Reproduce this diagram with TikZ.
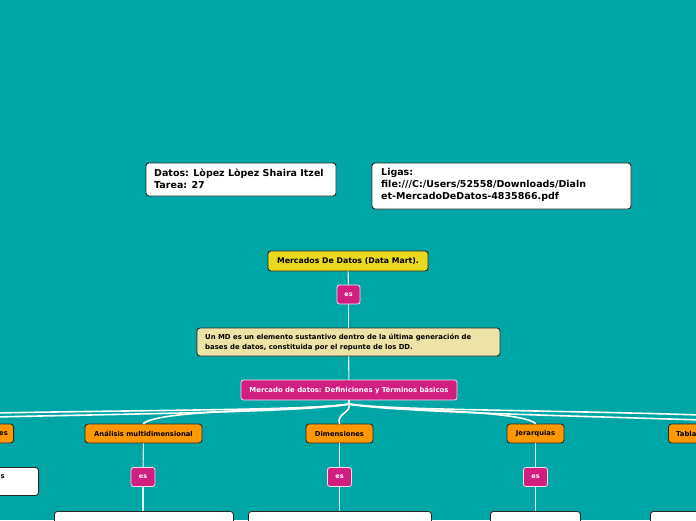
\documentclass[tikz,border=0pt]{standalone}
\usepackage{fontspec}
\setmainfont{DejaVu Sans}
\definecolor{bgteal}{RGB}{0,166,166}
\definecolor{mdyellow}{RGB}{232,216,30}
\definecolor{mdkhaki}{RGB}{236,228,166}
\definecolor{mdpink}{RGB}{210,30,128}
\definecolor{mdorange}{RGB}{255,152,0}
\definecolor{mdborder}{RGB}{40,40,40}
\definecolor{mdline}{RGB}{230,245,245}
\tikzset{
  box/.style={draw=mdborder, line width=0.9pt, rounded corners=3pt, inner sep=0pt, font=\bfseries},
  esbox/.style={draw=white!85!mdpink, line width=0.8pt, fill=mdpink, rounded corners=2.5pt, minimum width=24pt, minimum height=19pt, inner sep=0pt, text=white, font=\bfseries\fontsize{6.5}{7}\selectfont},
  orangebox/.style={box, fill=mdorange, minimum height=19pt, font=\bfseries\fontsize{6.8}{8}\selectfont},
  conn/.style={draw=mdline, line width=1.1pt},
  branch/.style={draw=white, line width=1.6pt, line cap=round},
}
\begin{document}
\begin{tikzpicture}[x=1pt,y=-1pt]
\useasboundingbox (0,0) rectangle (696,520);
\fill[bgteal] (0,0) rectangle (696,520);
\clip (0,0) rectangle (696,520);

% top info boxes
\node[box, fill=white, minimum width=190pt, minimum height=33pt] (datos) at (241,179.5) {};
\node[anchor=north west, align=left, font=\bfseries\fontsize{9.5}{12}\selectfont, inner sep=0pt] (datosT) at (154,168.5) {Datos: Lòpez Lòpez Shaira Itzel\\Tarea: 27};
\node[box, fill=white, minimum width=259pt, minimum height=46pt] (ligas) at (501.5,186) {};
\node[anchor=north west, align=left, font=\bfseries\fontsize{9.5}{12}\selectfont, inner sep=0pt] (ligasT) at (381,168.5) {Ligas:\\file:///C:/Users/52558/Downloads/Dialn\\et-MercadoDeDatos-4835866.pdf};

% main chain
\node[box, fill=mdyellow, minimum width=160pt, minimum height=20pt, font=\bfseries\fontsize{7.8}{9}\selectfont] (root) at (348,261) {Mercados De Datos (Data Mart).};
\node[esbox, minimum width=23pt] (es0) at (348.5,294.5) {es};
\node[box, fill=mdkhaki, minimum width=303pt, minimum height=28pt] (def) at (348.5,342) {};
\node[anchor=west, align=left, font=\bfseries\fontsize{6.9}{10}\selectfont, inner sep=0pt] (defT) at (205,342) {Un MD es un elemento sustantivo dentro de la última generación de\\bases de datos, constituida por el repunte de los DD.};
\node[esbox, minimum width=216pt, minimum height=20pt, font=\bfseries\fontsize{6.9}{8}\selectfont] (mdd) at (349,390) {Mercado de datos: Definiciones y Términos básicos};

\draw[conn] (root) -- (es0);
\draw[conn] (es0) -- (def);
\draw[conn] (def) -- (mdd);

% second level boxes
\node[orangebox, minimum width=64pt, anchor=east] (o0) at (14,433.5) {};
\node[anchor=east, inner sep=0pt, font=\bfseries\fontsize{6.8}{8}\selectfont] (o0T) at (8,433.5) {es};
\node[orangebox, minimum width=117pt] (o1) at (143.5,433.5) {Análisis multidimensional};
\node[orangebox, minimum width=67pt] (o2) at (339.5,433.5) {Dimensiones};
\node[orangebox, minimum width=57pt] (o3) at (535.5,433.5) {Jerarquias};
\node[orangebox, minimum width=60pt, anchor=west] (o4) at (668,433.5) {};
\node[anchor=west, inner sep=0pt, font=\bfseries\fontsize{6.8}{8}\selectfont] (o4T) at (676,433.5) {Tabla};

% branches
\coordinate (stem) at (349,404);
\coordinate (farL1) at (-5,413);
\coordinate (farL2) at (-5,417);
\coordinate (farR1) at (701,415);
\coordinate (farR2) at (701,420);
\draw[branch] (mdd.south) -- (stem);
\draw[branch] (stem) .. controls (320,410) and (150,410) .. (farL1);
\draw[branch] (stem) .. controls (310,412) and (120,414) .. (farL2);
\draw[branch] (stem) .. controls (300,411) and (160,409) .. (o1.north);
\draw[branch] (stem) .. controls (352,412) and (336,414) .. (o2.north);
\draw[branch] (stem) .. controls (400,411) and (520,410) .. (o3.north);
\draw[branch] (stem) .. controls (380,410) and (550,410) .. (farR1);
\draw[branch] (stem) .. controls (390,412) and (580,416) .. (farR2);

% es boxes
\node[esbox] (e1) at (143,477) {es};
\node[esbox] (e2) at (339.5,477) {es};
\node[esbox] (e3) at (535.5,477) {es};

% third level (cut off) boxes
\node[box, fill=white, minimum width=80pt, minimum height=28pt, anchor=north east] (w0) at (39,467) {};
\node[anchor=west, inner sep=0pt, font=\bfseries\fontsize{6.8}{8}\selectfont] (w0T) at (0.5,477) {s};
\node[box, fill=white, minimum width=179pt, minimum height=30pt, anchor=north west] (w1) at (54,511) {};
\node[box, fill=white, minimum width=183pt, minimum height=30pt, anchor=north west] (w2) at (248,511) {};
\node[box, fill=white, minimum width=90pt, minimum height=30pt, anchor=north west] (w3) at (490,511) {};
\node[box, fill=white, minimum width=70pt, minimum height=30pt, anchor=north west] (w4) at (650,511) {};

\draw[conn] (o1) -- (e1);
\draw[conn] (e1) -- (w1.north -| e1);
\draw[conn] (o2) -- (e2);
\draw[conn] (e2) -- (w2.north -| e2);
\draw[conn] (o3) -- (e3);
\draw[conn] (e3) -- (w3.north -| e3);
\end{tikzpicture}
\end{document}
